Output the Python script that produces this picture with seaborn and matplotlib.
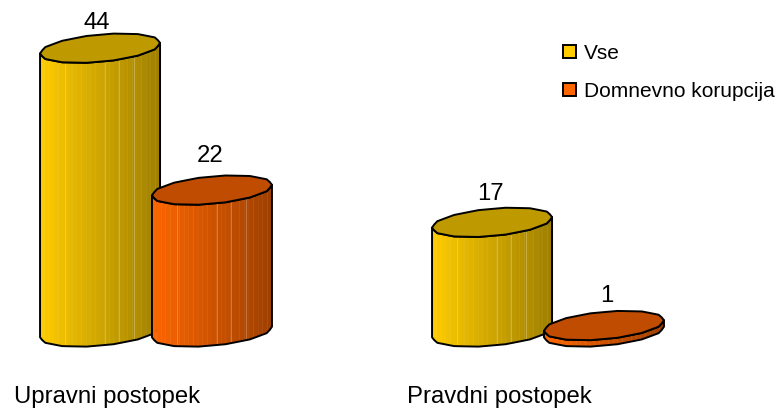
import numpy as np
import pandas as pd
import matplotlib
matplotlib.use("Agg")
import matplotlib.pyplot as plt
from matplotlib.patches import Patch, Polygon
from matplotlib.transforms import ScaledTranslation
import seaborn as sns

categories = ["Upravni postopek", "Pravdni postopek"]
series_names = ["Vse", "Domnevno korupcija"]
vse_values = [44, 17]
korupcija_values = [22, 1]

# style
SIDE_COLORS = ["#FFCC00", "#FF6600"]
TOP_COLORS = ["#BF9900", "#BF4C00"]
PX_W, PX_H, DPI = 780, 408, 100
BASE_PX = 332.0
PX_PER_UNIT = 6.45
CAT0_PX = 156.0
CAT_STEP_PX = 392.0
LABEL_NUDGE_PX = [(-3, 19.5), (-2, 28), (-1.5, 22.5), (2.5, 23.5)]
SEAMS = [0.21, 0.54, 0.66, 0.78]

sns.set_theme(style="white")
plt.rcParams["font.family"] = ["Liberation Sans", "DejaVu Sans"]

df = pd.DataFrame({
    "postopek": categories * 2,
    "zadeve": vse_values + korupcija_values,
    "vrsta": [series_names[0]] * 2 + [series_names[1]] * 2,
})

fig = plt.figure(figsize=(PX_W / DPI, PX_H / DPI), dpi=DPI, facecolor="white")
ax = fig.add_axes([0, (PX_H - BASE_PX) / PX_H, 1, BASE_PX / PX_H])
sns.barplot(data=df, x="postopek", y="zadeve", hue="vrsta", order=categories,
            hue_order=series_names, width=0.571, gap=0, legend=False, ax=ax,
            palette=SIDE_COLORS, errorbar=None)
ax.set_xlim(-CAT0_PX / CAT_STEP_PX, (PX_W - CAT0_PX) / CAT_STEP_PX)
ax.set_ylim(0, BASE_PX / PX_PER_UNIT)

ux = 1 / CAT_STEP_PX
uy = 1 / PX_PER_UNIT
N_SIDES = 28


def rim(cx, cy, a, k):
    """Faceted sheared ellipse; k counts vertices from the left end."""
    t = np.pi + 2 * np.pi * k / N_SIDES
    r = 1 + 0.012 * (-1.0) ** k * (np.abs(np.sin(t)) > 0.2)
    b = 13.6 * uy
    s = 5.3 * uy
    c, sn = r * np.cos(t), r * np.sin(t)
    return cx + a * np.clip(c, -1, 1), cy + s * c + b * sn


def shade(rgb, f):
    k = 1 - 0.38 * f
    return tuple(c * k for c in rgb)


def cylinder(cx, h, half_w, side, top, z):
    a = half_w
    k_front = np.arange(N_SIDES // 2 + 1)
    k_all = np.arange(N_SIDES)
    xw, yw = rim(cx, 0, a, k_front)
    xf = np.linspace(cx - a, cx + a, 27)
    yf = np.interp(xf, xw, yw)
    rgb = matplotlib.colors.to_rgb(side)
    for i in range(len(xf) - 1):
        f = ((xf[i] + xf[i + 1]) / 2 - (cx - a)) / (2 * a)
        c = shade(rgb, f)
        ax.add_patch(Polygon([(xf[i], yf[i]), (xf[i + 1], yf[i + 1]),
                              (xf[i + 1], yf[i + 1] + h), (xf[i], yf[i] + h)],
                             closed=True, facecolor=c, edgecolor=c,
                             linewidth=0.3, clip_on=False, zorder=z))
    if h > 3:
        for sf in SEAMS:
            xs = cx - a + 2 * a * sf
            ys = np.interp(xs, xw, yw)
            ax.plot([xs, xs], [ys, ys + h], color="white", alpha=0.3, lw=0.6,
                    clip_on=False, zorder=z + 0.1)
    ax.add_patch(Polygon(np.r_[np.c_[xw, yw], np.c_[xw[::-1], yw[::-1] + h]],
                         closed=True, facecolor="none", edgecolor="black",
                         linewidth=1.4, joinstyle="round", clip_on=False,
                         zorder=z + 0.2))
    xt, yt = rim(cx, h, a, k_all)
    ax.add_patch(Polygon(np.c_[xt, yt], closed=True, facecolor=top,
                         edgecolor="black", linewidth=1.4, joinstyle="round",
                         clip_on=False, zorder=z + 0.3))


bars = []
for s_idx, container in enumerate(ax.containers):
    for c_idx, patch in enumerate(container):
        patch.set_alpha(0)
        bars.append((c_idx, s_idx, patch))
bars.sort(key=lambda r: (r[0], r[1]))

for i, (c_idx, s_idx, patch) in enumerate(bars):
    cx = patch.get_x() + patch.get_width() / 2
    h = patch.get_height()
    cylinder(cx, h, 60 * ux, SIDE_COLORS[s_idx], TOP_COLORS[s_idx], 3 + i)
    dx, dy = LABEL_NUDGE_PX[i]
    ax.text(cx + dx * ux, h + dy * uy, f"{h:.0f}", ha="center", va="baseline",
            fontsize=17.2, color="black", zorder=20, clip_on=False)

sns.despine(ax=ax, left=True, bottom=True, top=True, right=True)
ax.set_xlabel("")
ax.set_ylabel("")
ax.set_yticks([])
ax.tick_params(axis="x", length=0, pad=39, labelsize=17.2, colors="black")
shift = ScaledTranslation(-49 / DPI, 0, fig.dpi_scale_trans)
for lab in ax.get_xticklabels():
    lab.set_transform(lab.get_transform() + shift)

handles = [Patch(facecolor=c, edgecolor="black", linewidth=1.4) for c in SIDE_COLORS]
ax.legend(handles, series_names, loc="upper left",
          bbox_to_anchor=(563 / PX_W, 1 - 44 / BASE_PX), frameon=False,
          fontsize=15, handlelength=0.6, handleheight=0.6, handletextpad=0.4,
          labelspacing=0.9, borderpad=0, borderaxespad=0, labelcolor="black")

fig.savefig("out.png", dpi=DPI, facecolor="white")
